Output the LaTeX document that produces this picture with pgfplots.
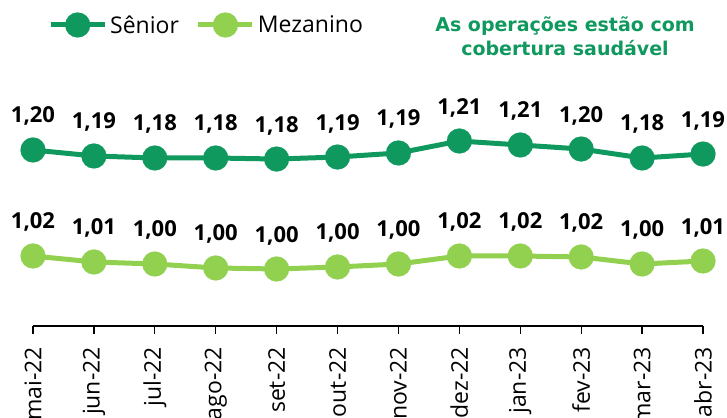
\documentclass[border=0pt]{standalone}
\usepackage{pgfplots}
\usepackage{pgfplotstable}
\pgfplotsset{compat=1.18}
\usepackage{fontspec}
\setmainfont{Open Sans}
\newfontfamily\titlefont{DejaVu Sans}
\definecolor{sgreen}{HTML}{10995E}
\definecolor{mgreen}{HTML}{92D050}
\pgfplotstableread{
x s sl m ml
0 1.1933 1,20 1.0198 1,02
1 1.1835 1,19 1.0100 1,01
2 1.1802 1,18 1.0067 1,00
3 1.1802 1,18 1.0002 1,00
4 1.1785 1,18 0.9985 1,00
5 1.1818 1,19 1.0018 1,00
6 1.1884 1,19 1.0067 1,00
7 1.2080 1,21 1.0198 1,02
8 1.2015 1,21 1.0198 1,02
9 1.1949 1,20 1.0182 1,02
10 1.1802 1,18 1.0067 1,00
11 1.1867 1,19 1.0116 1,01
}\data
\begin{document}
\begin{tikzpicture}
\useasboundingbox (0pt,-417pt) rectangle (727pt,0pt);
\begin{axis}[
  at={(33pt,-326pt)}, anchor=south west,
  scale only axis, width=670pt, height=266pt,
  xmin=0, xmax=11, ymin=0.9052, ymax=1.3406,
  axis y line=none, axis x line*=bottom,
  axis line style={-, black, line width=1.3pt},
  xtick={0,...,11},
  xticklabels={mai-22,jun-22,jul-22,ago-22,set-22,out-22,nov-22,dez-22,jan-23,fev-23,mar-23,abr-23},
  x tick label style={rotate=90, anchor=east, font=\fontsize{23}{25}\selectfont, text=black, inner sep=13pt},
  tick align=outside, major tick length=8pt,
  x tick style={black, line width=1.3pt},
  clip=false,
  point meta=explicit symbolic,
  nodes near coords,
  every node near coord/.append style={font=\bfseries\fontsize{22}{24}\selectfont, text=black, anchor=base, yshift=27pt},
  legend columns=2,
  legend style={at={(axis description cs:0.0224,1.1316)}, anchor=west, draw=none, fill=none, inner sep=0pt,
     font=\fontsize{23}{25}\selectfont, text=black,
     /tikz/every even column/.append style={column sep=14pt},
     nodes={inner sep=3pt}},
  legend image code/.code={\draw[mark repeat=2,mark phase=2,#1] plot coordinates {(0pt,0pt)(27pt,0pt)(54pt,0pt)};},
]
\addplot[color=sgreen, line width=5pt, mark=*, mark size=12.5pt, mark options={line width=0.1pt}] table[x=x, y=s, meta=sl] {\data};
\addlegendentry{Sênior}
\addplot[color=mgreen, line width=5pt, mark=*, mark size=12.5pt, mark options={line width=0.1pt}] table[x=x, y=m, meta=ml] {\data};
\addlegendentry{Mezanino}
\end{axis}
\node[font=\titlefont\bfseries\fontsize{19}{24}\selectfont, text=sgreen, anchor=base, inner sep=0pt] at (565pt,-31.7pt) {As operações estão com};
\node[font=\titlefont\bfseries\fontsize{19}{24}\selectfont, text=sgreen, anchor=base, inner sep=0pt] at (565pt,-56pt) {cobertura saudável};
\end{tikzpicture}
\end{document}
